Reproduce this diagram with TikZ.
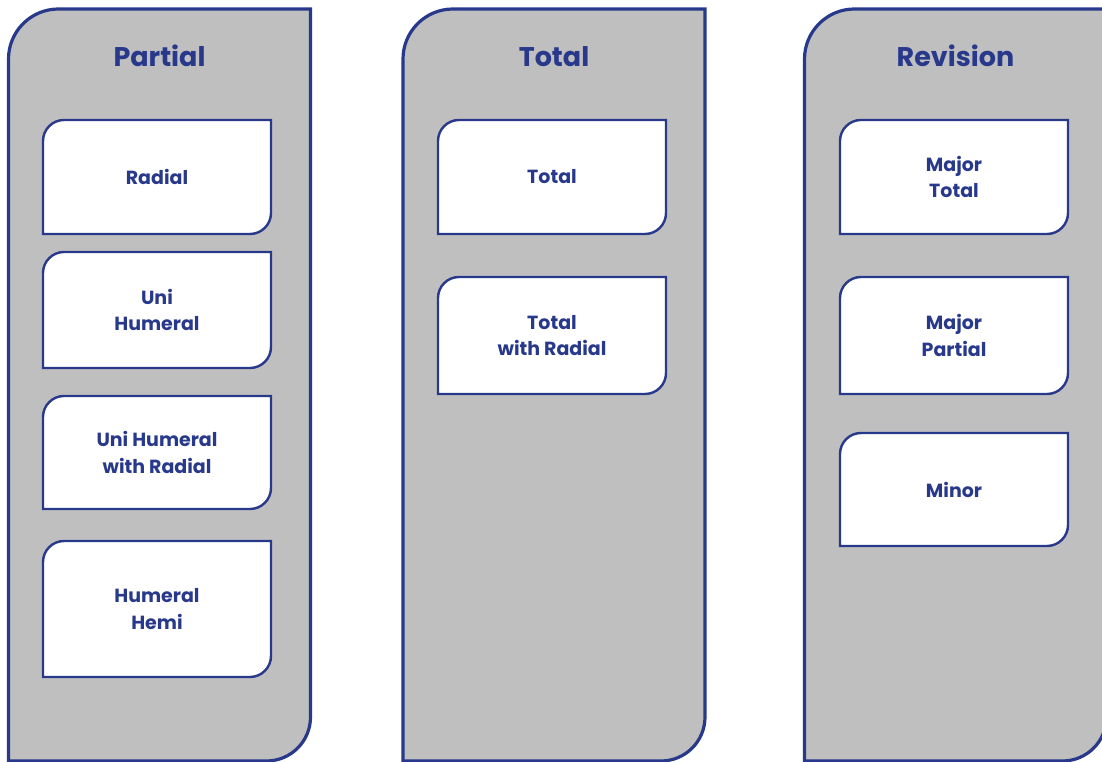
\documentclass[tikz,border=0pt]{standalone}
\usepackage{fontspec}
\setmainfont{Poppins}
\pgfdeclarelayer{colbg}
\pgfdeclarelayer{boxbg}
\pgfsetlayers{colbg,boxbg,main}
\definecolor{navy}{RGB}{40,57,140}
\definecolor{panel}{RGB}{191,191,191}
\newcommand\cutshape[4]{%
  \draw[#4] (#1.south west) -- ([yshift=-#2]#1.north west)
    arc[start angle=180,end angle=90,radius=#2] -- (#1.north east)
    -- ([yshift=#3]#1.south east)
    arc[start angle=0,end angle=-90,radius=#3] -- cycle;}
\tikzset{
  colnode/.style={minimum width=302pt,minimum height=752pt,inner sep=0pt,outer sep=0pt},
  colpaint/.style={draw=navy,fill=panel,line width=3.2pt},
  title/.style={font=\fontsize{27}{32}\selectfont\bfseries,text=navy,anchor=base},
  inbox/.style={minimum width=228pt,minimum height=114pt,inner sep=0pt,outer sep=0pt,
    align=center,text=navy,font=\fontsize{19}{26.5}\selectfont\bfseries},
  tallbox/.style={inbox,minimum height=136pt},
  boxpaint/.style={draw=navy,fill=white,line width=2.4pt},
}
\begin{document}
\begin{tikzpicture}[x=1pt,y=1pt]
\useasboundingbox (0,0) rectangle (1102,762);
% columns (y up: Y = 762 - y)
\node[colnode] (c1) at (159.5,377) {};
\node[colnode] (c2) at (554,377) {};
\node[colnode] (c3) at (955.5,377) {};
\node[title] (t1) at (159.5,695) {Partial};
\node[title] (t2) at (554,695) {Total};
\node[title] (t3) at (955.5,695) {Revision};
% Partial boxes
\node[inbox] (p1) at (157,585) {Radial};
\node[inbox,minimum height=116pt] (p2) at (157,452) {Uni\\Humeral};
\node[inbox,minimum height=113pt] (p3) at (157,309.5) {Uni Humeral\\with Radial};
\node[tallbox] (p4) at (157,153) {Humeral\\Hemi};
% Total boxes
\node[inbox] (q1) at (552,585) {Total};
\node[inbox,minimum height=117pt] (q2) at (552,426.5) {Total\\with Radial};
% Revision boxes
\node[inbox] (r1) at (954,585) {Major\\Total};
\node[inbox,minimum height=117pt] (r2) at (954,426.5) {Major\\Partial};
\node[inbox,minimum height=113pt] (r3) at (954,272.5) {Minor};
\begin{pgfonlayer}{colbg}
  \cutshape{c1}{50pt}{44pt}{colpaint}
  \cutshape{c2}{50pt}{44pt}{colpaint}
  \cutshape{c3}{50pt}{44pt}{colpaint}
\end{pgfonlayer}
\begin{pgfonlayer}{boxbg}
  \cutshape{p1}{21pt}{21pt}{boxpaint}
  \cutshape{p2}{21pt}{21pt}{boxpaint}
  \cutshape{p3}{21pt}{21pt}{boxpaint}
  \cutshape{p4}{21pt}{21pt}{boxpaint}
  \cutshape{q1}{21pt}{21pt}{boxpaint}
  \cutshape{q2}{21pt}{21pt}{boxpaint}
  \cutshape{r1}{21pt}{21pt}{boxpaint}
  \cutshape{r2}{21pt}{21pt}{boxpaint}
  \cutshape{r3}{21pt}{21pt}{boxpaint}
\end{pgfonlayer}
\end{tikzpicture}
\end{document}
